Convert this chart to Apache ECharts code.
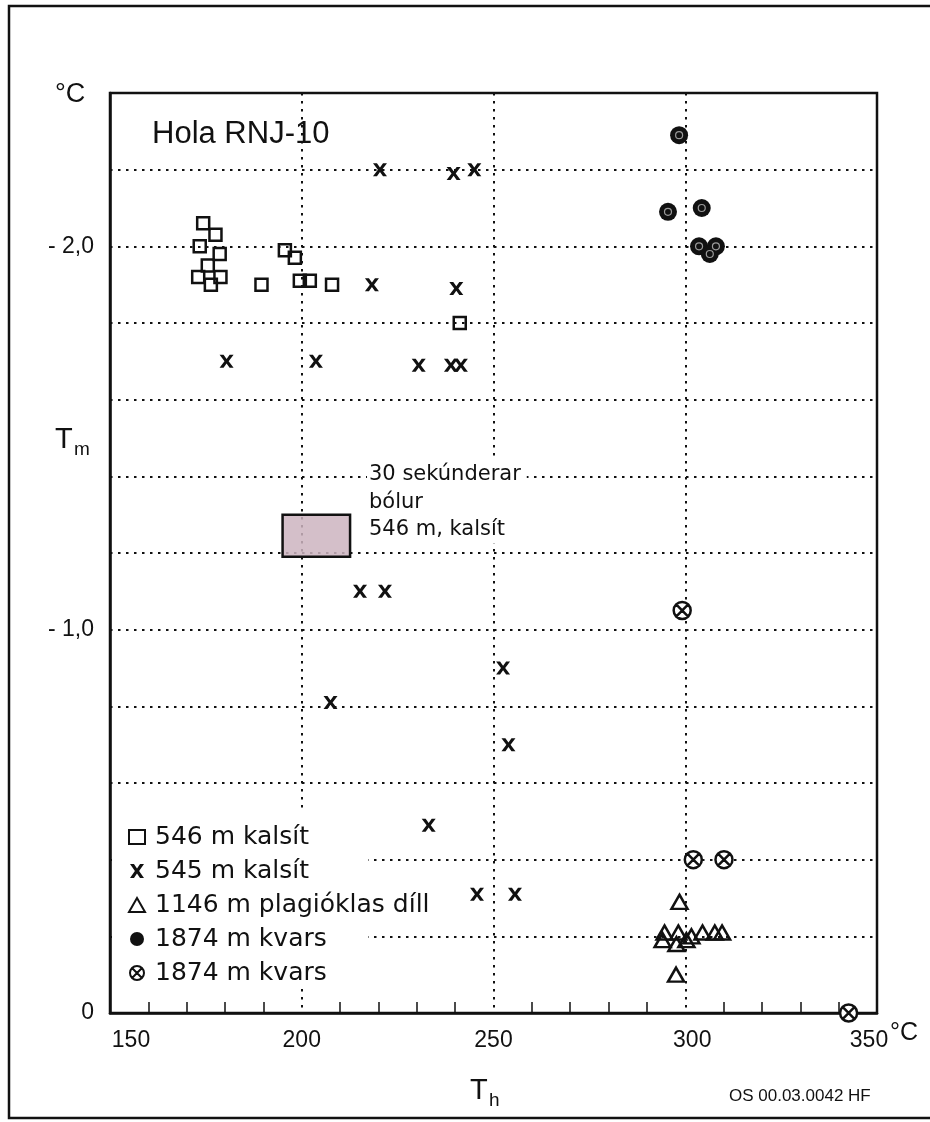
<!DOCTYPE html>
<html>
<head>
<meta charset="utf-8">
<script src="https://cdn.jsdelivr.net/npm/echarts@6/dist/echarts.min.js"></script>
<style>
  html, body { margin: 0; padding: 0; background: #fff; }
  #chart { width: 930px; height: 1122px; }
</style>
</head>
<body>
<div id="chart"></div>
<script>
// Fluid inclusions in well RNJ-10: homogenisation temperature Th (°C)
// against final melting temperature Tm (°C).

// 546 m, calcite
const calcite546Th = [174.3, 177.5, 173.4, 178.6, 175.5, 173.0, 178.8, 176.3, 189.5, 195.6, 198.2, 199.5, 202.1, 207.9, 241.2];
const calcite546Tm = [-2.06, -2.03, -2.00, -1.98, -1.95, -1.92, -1.92, -1.90, -1.90, -1.99, -1.97, -1.91, -1.91, -1.90, -1.80];

// 545 m, calcite
const calcite545Th = [220.4, 239.6, 245.0, 218.3, 240.3, 180.4, 203.7, 230.5, 238.9, 241.5, 215.2, 221.7, 252.5, 207.5, 253.9, 233.1, 245.7, 255.6];
const calcite545Tm = [-2.20, -2.19, -2.20, -1.90, -1.89, -1.70, -1.70, -1.69, -1.69, -1.69, -1.10, -1.10, -0.90, -0.81, -0.70, -0.49, -0.31, -0.31];

// 1146 m, plagioclase
const plag1146Th = [298.5, 297.6, 294.6, 298.2, 301.6, 304.5, 307.7, 309.6, 294.1, 297.7, 300.3];
const plag1146Tm = [-0.29, -0.10, -0.21, -0.21, -0.20, -0.21, -0.21, -0.21, -0.19, -0.18, -0.19];

// 1874 m, quartz (ring symbol)
const quartzATh = [298.4, 295.5, 304.3, 303.6, 308.0, 306.4];
const quartzATm = [-2.29, -2.09, -2.10, -2.00, -2.00, -1.98];

// 1874 m, quartz (crossed circle)
const quartzBTh = [299.2, 302.1, 310.1, 342.6];
const quartzBTm = [-1.05, -0.40, -0.40, 0.00];

// Secondary inclusions, 546 m calcite: range box
const boxTh = [195.0, 212.6];
const boxTm = [-1.30, -1.19];

// Series names and tick labels
const seriesNames = ['546 m kalsít', '545 m kalsít', '1146 m plagióklas díll', '1874 m kvars', '1874 m kvars '];
const xTickValues = [150, 200, 250, 300, 350];
const xTickLabels = ['150', '200', '250', '300', '350'];
const yTickValues = [-2, -1, 0];
const yTickLabels = ['- 2,0', '- 1,0', '0'];

const zip = (a, b) => a.map((v, i) => [v, b[i]]);

const INK = '#111';
const LABEL_FONT = '"Liberation Sans", Arial, sans-serif';
const TEXT_FONT = '"DejaVu Sans", sans-serif';

const xSymbol = 'path://M0,0 L3.4,0 L6,3.9 L8.6,0 L12,0 L7.8,6 L12,12 L8.6,12 L6,8.1 L3.4,12 L0,12 L4.2,6 Z';
const crossCircle = 'path://M10,0 A10,10 0 1,1 9.99,0 Z M2.93,2.93 L17.07,17.07 M17.07,2.93 L2.93,17.07';

const chart = echarts.init(document.getElementById('chart'), null, { renderer: 'canvas' });

const dotted = { color: INK, width: 2, type: [2.5, 5.5] };

chart.setOption({
  backgroundColor: '#fff',
  animation: false,
  grid: {
    left: 110, right: 53, top: 93, bottom: 109,
    show: true, borderColor: INK, borderWidth: 2.5, backgroundColor: 'transparent'
  },
  xAxis: {
    type: 'value', min: 150, max: 350, interval: 50,
    axisLine: { show: true, onZero: false, lineStyle: { color: INK, width: 2.5 } },
    axisTick: { show: false, inside: true },
    minorTick: { show: true, splitNumber: 5, length: 11, lineStyle: { color: INK, width: 1.5 } },
    splitLine: { show: true, lineStyle: dotted },
    axisLabel: {
      margin: 16, color: INK, fontSize: 23, fontFamily: LABEL_FONT,
      showMinLabel: true, showMaxLabel: true,
      formatter: v => {
        const i = xTickValues.indexOf(v);
        if (i < 0) return '';
        if (i === 0) return '{l|' + xTickLabels[i] + '}';
        if (i === xTickValues.length - 1) return '{r|' + xTickLabels[i] + '}';
        if (i === 3) return '{m|' + xTickLabels[i] + '}';
        return xTickLabels[i];
      },
      rich: {
        l: { fontSize: 23, fontFamily: LABEL_FONT, color: INK, padding: [0, 0, 0, 42] },
        m: { fontSize: 23, fontFamily: LABEL_FONT, color: INK, padding: [0, 0, 0, 14] },
        r: { fontSize: 23, fontFamily: LABEL_FONT, color: INK, padding: [0, 16, 0, 0] }
      }
    }
  },
  yAxis: {
    type: 'value', inverse: true, min: -2.4, max: 0, interval: 0.2,
    axisLine: { show: true, onZero: false, lineStyle: { color: INK, width: 2.5 } },
    axisTick: { show: false },
    splitLine: { show: true, lineStyle: dotted },
    axisLabel: {
      margin: 16, color: INK, fontSize: 23, fontFamily: LABEL_FONT,
      showMinLabel: true, showMaxLabel: true,
      formatter: v => {
        const i = yTickValues.findIndex(t => Math.abs(t - v) < 1e-9);
        return i < 0 ? '' : yTickLabels[i];
      }
    }
  },
  legend: {
    orient: 'vertical', left: 123, top: 818,
    itemWidth: 16, itemHeight: 14, itemGap: 6,
    selectedMode: false,
    data: seriesNames,
    textStyle: { fontSize: 25, lineHeight: 28, fontFamily: TEXT_FONT, color: INK, padding: [0, 0, 0, 5] }
  },
  graphic: [
    // outer frame
    { type: 'rect', z: 10, silent: true,
      shape: { x: 9, y: 6, width: 940, height: 1112 },
      style: { fill: 'none', stroke: INK, lineWidth: 2.5 } },
    // blank area behind the legend
    { type: 'rect', z: 1, silent: true,
      shape: { x: 112, y: 811, width: 256, height: 174 },
      style: { fill: '#fff' } },
    { type: 'text', z: 10, left: 152, top: 119,
      style: { text: 'Hola RNJ-10', font: '31px ' + LABEL_FONT, fill: INK } },
    { type: 'text', z: 10, left: 367, top: 461,
      style: { text: '30 sekúnderar\nbólur\n546 m, kalsít', font: '21px ' + TEXT_FONT,
               lineHeight: 27.5, fill: INK, backgroundColor: '#fff', padding: [0, 6, 0, 2] } },
    { type: 'text', z: 10, left: 55, top: 81,
      style: { text: '°C', font: '27px ' + LABEL_FONT, fill: INK } },
    { type: 'text', z: 10, left: 55, top: 425,
      style: { text: 'T', font: '29px ' + LABEL_FONT, fill: INK } },
    { type: 'text', z: 10, left: 74, top: 440,
      style: { text: 'm', font: '19px ' + LABEL_FONT, fill: INK } },
    { type: 'text', z: 10, left: 470, top: 1076,
      style: { text: 'T', font: '29px ' + LABEL_FONT, fill: INK } },
    { type: 'text', z: 10, left: 489, top: 1091,
      style: { text: 'h', font: '19px ' + LABEL_FONT, fill: INK } },
    { type: 'text', z: 10, left: 890, top: 1021,
      style: { text: '°C', font: '25px ' + LABEL_FONT, fill: INK } },
    { type: 'text', z: 10, left: 729, top: 1088,
      style: { text: 'OS 00.03.0042 HF', font: '17px ' + LABEL_FONT, fill: INK } }
  ],
  series: [
    {
      name: seriesNames[0], type: 'scatter', clip: false, z: 3,
      symbol: 'rect', symbolSize: 12,
      itemStyle: { color: 'rgba(0,0,0,0)', borderColor: INK, borderWidth: 2.5, opacity: 1 },
      data: zip(calcite546Th, calcite546Tm),
      markArea: {
        silent: true,
        itemStyle: { color: 'rgba(205,180,192,0.85)', borderColor: INK, borderWidth: 2.5, opacity: 1 },
        data: [[{ coord: [boxTh[0], boxTm[0]] }, { coord: [boxTh[1], boxTm[1]] }]]
      }
    },
    {
      name: seriesNames[1], type: 'scatter', clip: false, z: 3,
      symbol: xSymbol, symbolSize: [14, 13],
      itemStyle: { color: INK, opacity: 1 },
      data: zip(calcite545Th, calcite545Tm)
    },
    {
      name: seriesNames[2], type: 'scatter', clip: false, z: 3,
      symbol: 'triangle', symbolSize: [16, 14],
      itemStyle: { color: 'rgba(0,0,0,0)', borderColor: INK, borderWidth: 2.5, opacity: 1 },
      data: zip(plag1146Th, plag1146Tm)
    },
    {
      name: seriesNames[3], type: 'scatter', clip: false, z: 3,
      symbol: 'circle', symbolSize: 18,
      itemStyle: { color: INK, opacity: 1 },
      data: zip(quartzATh, quartzATm)
    },
    {
      // light inner ring of the quartz symbol
      name: 'ring', type: 'scatter', clip: false, z: 4, silent: true,
      symbol: 'circle', symbolSize: 7,
      itemStyle: { color: 'rgba(0,0,0,0)', borderColor: '#9a9a9a', borderWidth: 1.2, opacity: 1 },
      data: zip(quartzATh, quartzATm)
    },
    {
      name: seriesNames[4], type: 'scatter', clip: false, z: 3,
      symbol: crossCircle, symbolSize: 17,
      itemStyle: { color: '#fff', borderColor: INK, borderWidth: 2.5, opacity: 1 },
      data: zip(quartzBTh, quartzBTm)
    }
  ]
});
</script>
</body>
</html>
